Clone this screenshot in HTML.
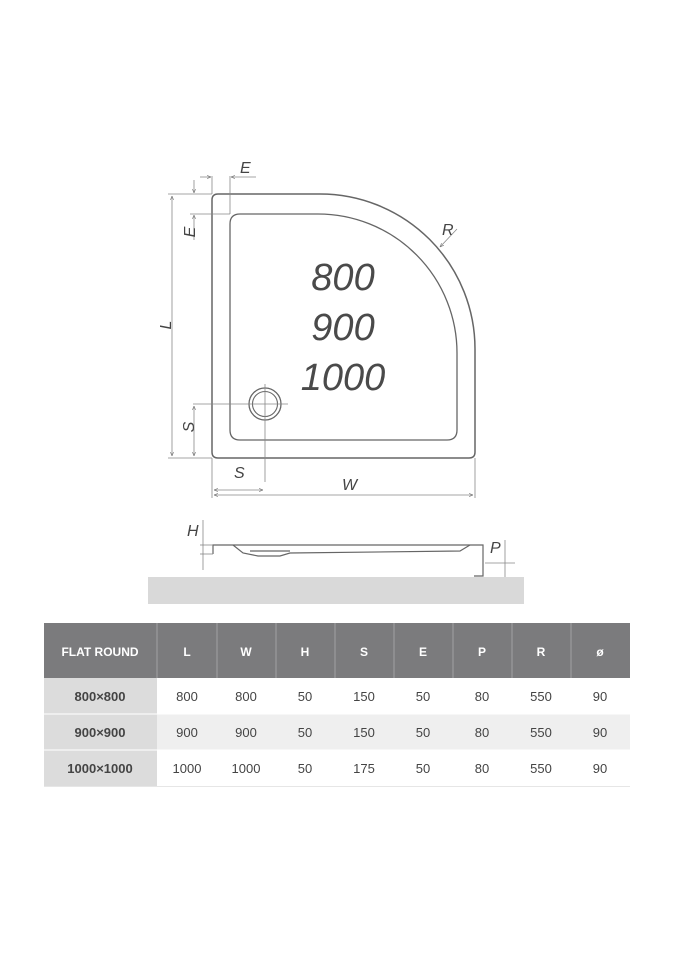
<!DOCTYPE html>
<html><head><meta charset="utf-8"><style>
html,body{margin:0;padding:0;background:#fff;}
svg{display:block;}
text{font-family:"Liberation Sans","DejaVu Sans",sans-serif;}
</style></head><body>
<svg width="675" height="960" viewBox="0 0 675 960" xmlns="http://www.w3.org/2000/svg">
<defs>
<marker id="a" viewBox="0 0 10 10" refX="10" refY="5" markerWidth="5" markerHeight="5" orient="auto-start-reverse"><path d="M0,1 L10,5 L0,9" fill="none" stroke="#777" stroke-width="1.5"/></marker>
</defs>
<path d="M218,194 L320,194 A155,155 0 0 1 475,349 L475,452 Q475,458 469,458 L218,458 Q212,458 212,452 L212,200 Q212,194 218,194 Z" fill="#fff" stroke="#666" stroke-width="1.5"/>
<path d="M240,214 L318,214 A139,139 0 0 1 457,353 L457,430 Q457,440 447,440 L240,440 Q230,440 230,430 L230,224 Q230,214 240,214 Z" fill="#fff" stroke="#666" stroke-width="1.3"/>
<circle cx="265" cy="404" r="16" fill="#fff" stroke="#666" stroke-width="1.3"/>
<circle cx="265" cy="404" r="12.5" fill="#fff" stroke="#666" stroke-width="1.1"/>
<g stroke="#888" stroke-width="0.8" fill="none">
<line x1="265" y1="384" x2="265" y2="482"/>
<line x1="193" y1="404" x2="288" y2="404"/>
<line x1="168" y1="194" x2="212" y2="194"/>
<line x1="168" y1="458" x2="212" y2="458"/>
<line x1="190" y1="214" x2="230" y2="214"/>
<line x1="212" y1="458" x2="212" y2="498"/>
<line x1="475" y1="458" x2="475" y2="498"/>
<line x1="230" y1="176" x2="230" y2="214"/>
<line x1="212" y1="176" x2="212" y2="194"/>
<line x1="172" y1="196" x2="172" y2="456" marker-start="url(#a)" marker-end="url(#a)"/>
<line x1="194" y1="406" x2="194" y2="456" marker-start="url(#a)" marker-end="url(#a)"/>
<line x1="214" y1="490" x2="263" y2="490" marker-start="url(#a)" marker-end="url(#a)"/>
<line x1="214" y1="495" x2="473" y2="495" marker-start="url(#a)" marker-end="url(#a)"/>
<line x1="200" y1="177" x2="211" y2="177" marker-end="url(#a)"/>
<line x1="256" y1="177" x2="231" y2="177" marker-end="url(#a)"/>
<line x1="194" y1="180" x2="194" y2="193" marker-end="url(#a)"/>
<line x1="194" y1="240" x2="194" y2="215" marker-end="url(#a)"/>
<line x1="457" y1="229" x2="440" y2="247" marker-end="url(#a)"/>
</g>
<g fill="#444" font-style="italic" font-size="16">
<text x="240" y="173">E</text>
<text x="442" y="235">R</text>
<text x="189" y="238" transform="rotate(-90 189 232)" text-anchor="middle">E</text>
<text x="166" y="330" transform="rotate(-90 166 325)" text-anchor="middle">L</text>
<text x="189" y="432" transform="rotate(-90 189 427)" text-anchor="middle">S</text>
<text x="234" y="478">S</text>
<text x="342" y="490">W</text>
</g>
<g fill="#4a4a4a" font-style="italic" font-size="38" text-anchor="middle">
<text x="343" y="290">800</text>
<text x="343" y="340">900</text>
<text x="343" y="390">1000</text>
</g>
<rect x="148" y="577" width="376" height="27" fill="#d9d9d9"/>
<g stroke="#666" stroke-width="1.2" fill="none">
<path d="M213,554 L213,545 L483,545 L483,576 L474,576"/>
<path d="M233,545 L243,553 L258,556 L280,556 L290,553 L460,551 L470,545"/>
<path d="M250,551 L290,551"/>
</g>
<g stroke="#888" stroke-width="0.8" fill="none">
<line x1="203" y1="520" x2="203" y2="570"/>
<line x1="200" y1="545" x2="213" y2="545"/>
<line x1="200" y1="554" x2="213" y2="554"/>
<line x1="505" y1="540" x2="505" y2="577"/>
<line x1="485" y1="563" x2="515" y2="563"/>
</g>
<g fill="#444" font-style="italic" font-size="16">
<text x="187" y="536">H</text>
<text x="490" y="553">P</text>
</g>
<rect x="44" y="623" width="586" height="55" fill="#7b7b7d"/>
<rect x="44" y="678" width="113" height="108" fill="#dcdcdc"/>
<rect x="157" y="714" width="473" height="36" fill="#efefef"/>
<line x1="44" y1="786.5" x2="630" y2="786.5" stroke="#e6e6e6"/>
<g stroke="#a0a0a2" stroke-width="1">
<line x1="157" y1="623" x2="157" y2="678"/><line x1="217" y1="623" x2="217" y2="678"/><line x1="276" y1="623" x2="276" y2="678"/><line x1="335" y1="623" x2="335" y2="678"/><line x1="394" y1="623" x2="394" y2="678"/><line x1="453" y1="623" x2="453" y2="678"/><line x1="512" y1="623" x2="512" y2="678"/><line x1="571" y1="623" x2="571" y2="678"/>
</g>
<g stroke="#fff" stroke-width="1">
<line x1="44" y1="714" x2="630" y2="714"/><line x1="44" y1="750" x2="630" y2="750"/>
</g>
<g fill="#fff" font-weight="bold" font-size="12" text-anchor="middle">
<text x="100" y="656">FLAT ROUND</text>
<text x="187" y="656">L</text><text x="246" y="656">W</text><text x="305" y="656">H</text><text x="364" y="656">S</text><text x="423" y="656">E</text><text x="482" y="656">P</text><text x="541" y="656">R</text><text x="600" y="656">ø</text>
</g>
<g fill="#444" font-weight="bold" font-size="13" text-anchor="middle">
<text x="100" y="701">800×800</text><text x="100" y="737">900×900</text><text x="100" y="773">1000×1000</text>
</g>
<g fill="#444" font-size="13" text-anchor="middle">
<text x="187" y="701">800</text><text x="246" y="701">800</text><text x="305" y="701">50</text><text x="364" y="701">150</text><text x="423" y="701">50</text><text x="482" y="701">80</text><text x="541" y="701">550</text><text x="600" y="701">90</text>
<text x="187" y="737">900</text><text x="246" y="737">900</text><text x="305" y="737">50</text><text x="364" y="737">150</text><text x="423" y="737">50</text><text x="482" y="737">80</text><text x="541" y="737">550</text><text x="600" y="737">90</text>
<text x="187" y="773">1000</text><text x="246" y="773">1000</text><text x="305" y="773">50</text><text x="364" y="773">175</text><text x="423" y="773">50</text><text x="482" y="773">80</text><text x="541" y="773">550</text><text x="600" y="773">90</text>
</g>
</svg>
</body></html>
